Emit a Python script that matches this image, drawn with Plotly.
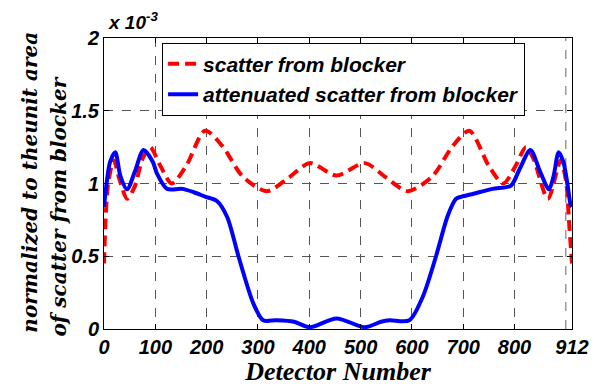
import plotly.graph_objects as go

# Detector index positions and values (in units of 1e-3)
red_x = [0, 3, 8, 19, 30, 45, 60, 75, 90, 110, 132, 160, 197, 230, 270, 317, 360, 401,
         453, 508, 550, 592, 640, 680, 712, 750, 778, 802, 822, 837, 865, 890, 901, 906, 912]
red_y = [0.45, 0.75, 1.0, 1.16, 1.03, 0.895, 0.98, 1.17, 1.25, 1.12, 1.0, 1.12, 1.363, 1.26, 1.05, 0.947, 1.04, 1.14,
         1.055, 1.14, 1.04, 0.947, 1.05, 1.26, 1.363, 1.12, 1.0, 1.12, 1.25, 1.17, 0.895, 1.16, 1.0, 0.75, 0.45]

blue_x = [0, 5, 12, 22, 32, 45, 60, 77, 95, 103, 123, 152, 175, 197, 220, 240, 262, 291, 310, 336, 370,
          401, 453, 508, 540, 556, 595, 621, 647, 670, 686, 697, 720, 757, 793, 810, 831, 850, 867, 876,
          886, 895, 903, 909, 912]
blue_y = [0.84, 1.0, 1.15, 1.215, 1.05, 0.96, 1.08, 1.23, 1.15, 1.07, 0.963, 0.963, 0.94, 0.91, 0.88, 0.77, 0.5, 0.176, 0.06, 0.06, 0.05,
          0.012, 0.073, 0.012, 0.05, 0.06, 0.06, 0.22, 0.5, 0.78, 0.895, 0.91, 0.93, 0.963, 0.986, 1.1, 1.23, 1.08, 0.96, 1.05,
          1.215, 1.15, 1.0, 0.86, 0.84]

x_ticks = [0, 100, 200, 300, 400, 500, 600, 700, 800, 912]
x_tick_text = ["0", "100", "200", "300", "400", "500", "600", "700", "800", "912"]
x_extra_grid = [900]
y_ticks = [0, 0.5, 1, 1.5, 2]
y_tick_text = ["0", "0.5", "1", "1.5", "2"]

series_names = ["scatter from blocker", "attenuated scatter from blocker"]

W, H = 594, 386
L, R, T, B = 103.5, 21.5, 38, 57
pw, ph = W - L - R, H - T - B

def px(x):
    return (x - L) / pw

def py(y):
    return (H - B - y) / ph

tick_font = dict(family="Liberation Sans", size=20, color="black", weight="bold", style="italic")
xtitle_font = dict(family="Liberation Serif", size=26, color="black", weight="bold", style="italic")
ytitle_font = dict(family="DejaVu Serif", size=20, color="black", weight="bold", style="italic")

fig = go.Figure()
for gx in x_extra_grid:
    fig.add_vline(x=gx, line=dict(color="#666666", width=1, dash="dash"), layer="below")
fig.add_trace(go.Scatter(x=red_x, y=red_y, mode="lines", name=series_names[0],
                         line=dict(color="#ff0000", width=4, dash="11px,6px", shape="spline", smoothing=0.8)))
fig.add_trace(go.Scatter(x=blue_x, y=blue_y, mode="lines", name=series_names[1],
                         line=dict(color="#0000ff", width=4, shape="spline", smoothing=0.8)))

axis_common = dict(showline=True, linecolor="black", linewidth=1, mirror="ticks",
                   ticks="inside", ticklen=5, tickcolor="black",
                   showgrid=True, gridcolor="#555555", griddash="dash", gridwidth=1,
                   zeroline=False, tickfont=tick_font, tickangle=0, ticklabeloverflow="allow",
                   automargin=False)

fig.update_xaxes(range=[0, 912], tickvals=x_ticks, ticktext=x_tick_text,
                 title=dict(text="Detector Number", font=xtitle_font, standoff=4), **axis_common)
fig.update_yaxes(range=[0, 2], tickvals=y_ticks, ticktext=y_tick_text, **axis_common)

fig.update_layout(
    width=W, height=H,
    margin=dict(l=L, r=R, t=T, b=B),
    paper_bgcolor="white", plot_bgcolor="white",
    showlegend=True,
    legend=dict(x=px(161.7), y=py(42.7), xanchor="left", yanchor="top",
                bgcolor="white", bordercolor="black", borderwidth=1,
                font=dict(family="Liberation Sans", size=21, color="black", weight="bold", style="italic"),
                tracegroupgap=0, itemwidth=30),
    annotations=[
        dict(text="x 10<sup>-3</sup>", xref="paper", yref="paper", x=px(106), y=py(35),
             xanchor="left", yanchor="bottom", showarrow=False,
             font=dict(family="Liberation Sans", size=19, color="black", weight="bold", style="italic")),
        dict(text="normalized to theunit area", xref="paper", yref="paper", x=px(29), y=py(182),
             xanchor="center", yanchor="middle", textangle=-90, showarrow=False, font=ytitle_font),
        dict(text="of scatter from blocker", xref="paper", yref="paper", x=px(58), y=py(207),
             xanchor="center", yanchor="middle", textangle=-90, showarrow=False, font=ytitle_font),
    ],
)

fig.write_html("out.html")
